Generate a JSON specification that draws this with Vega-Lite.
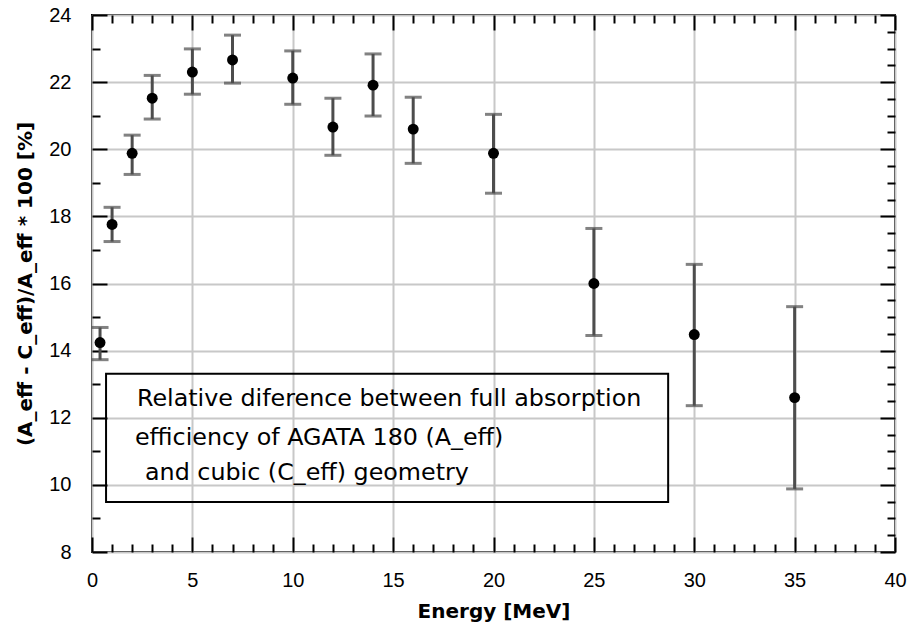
{
  "$schema": "https://vega.github.io/schema/vega-lite/v6.json",
  "width": 803,
  "height": 537,
  "autosize": "none",
  "padding": {"left": 92, "top": 15, "right": 16, "bottom": 74},
  "background": "#ffffff",
  "config": {
    "view": {"stroke": "#000000", "strokeWidth": 2},
    "axis": {
      "labelFont": "Liberation Sans",
      "labelFontSize": 20,
      "labelColor": "#000000",
      "labelOverlap": false,
      "titleFont": "DejaVu Sans",
      "titleFontSize": 20,
      "titleFontWeight": "bold",
      "titleColor": "#000000",
      "tickColor": "#000000",
      "tickWidth": 2,
      "tickCount": 500,
      "domain": false,
      "gridColor": "#c8c8c8",
      "gridWidth": 2
    }
  },
  "resolve": {"axis": {"x": "independent", "y": "independent"}},
  "layer": [
    {
      "data": {"values": [
        {"energy": 0.4, "diff": 14.24, "lo": 13.73, "hi": 14.69},
        {"energy": 1, "diff": 17.76, "lo": 17.25, "hi": 18.27},
        {"energy": 2, "diff": 19.88, "lo": 19.25, "hi": 20.42},
        {"energy": 3, "diff": 21.52, "lo": 20.9, "hi": 22.2},
        {"energy": 5, "diff": 22.3, "lo": 21.64, "hi": 22.99},
        {"energy": 7, "diff": 22.66, "lo": 21.97, "hi": 23.4},
        {"energy": 10, "diff": 22.12, "lo": 21.34, "hi": 22.93},
        {"energy": 12, "diff": 20.66, "lo": 19.82, "hi": 21.52},
        {"energy": 14, "diff": 21.91, "lo": 20.99, "hi": 22.84},
        {"energy": 16, "diff": 20.6, "lo": 19.58, "hi": 21.55},
        {"energy": 20, "diff": 19.88, "lo": 18.69, "hi": 21.04},
        {"energy": 25, "diff": 16.0, "lo": 14.45, "hi": 17.64},
        {"energy": 30, "diff": 14.48, "lo": 12.36, "hi": 16.57},
        {"energy": 35, "diff": 12.6, "lo": 9.88, "hi": 15.31}
      ]},
      "layer": [
        {
          "mark": {"type": "rule", "color": "#4d4d4d", "strokeWidth": 3},
          "encoding": {
            "x": {"field": "energy", "type": "quantitative",
              "scale": {"domain": [0, 40], "nice": false, "zero": false},
              "axis": {
                "orient": "bottom",
                "values": [0,1,2,3,4,5,6,7,8,9,10,11,12,13,14,15,16,17,18,19,20,21,22,23,24,25,26,27,28,29,30,31,32,33,34,35,36,37,38,39,40],
                "tickCount": 500,
                "format": "d",
                "labelExpr": "datum.value % 5 === 0 ? datum.label : ''",
                "labelOverlap": false,
                "tickSize": {"condition": {"test": "datum.value % 5 === 0", "value": -15}, "value": -8},
                "gridOpacity": {"condition": {"test": "datum.value % 5 === 0", "value": 1}, "value": 0},
                "labelPadding": 33,
                "labelFlush": false,
                "labelBound": false,
                "title": "Energy [MeV]",
                "titlePadding": 4
              }},
            "y": {"field": "lo", "type": "quantitative",
              "scale": {"domain": [8, 24], "nice": false, "zero": false},
              "axis": {
                "orient": "left",
                "values": [8,8.5,9,9.5,10,10.5,11,11.5,12,12.5,13,13.5,14,14.5,15,15.5,16,16.5,17,17.5,18,18.5,19,19.5,20,20.5,21,21.5,22,22.5,23,23.5,24],
                "tickCount": 500,
                "format": "d",
                "labelExpr": "datum.value % 2 === 0 ? datum.label : ''",
                "labelOverlap": false,
                "tickSize": {"condition": {"test": "datum.value % 2 === 0", "value": -15}, "value": -8},
                "gridOpacity": {"condition": {"test": "datum.value % 2 === 0", "value": 1}, "value": 0},
                "labelPadding": 36,
                "labelFlush": false,
                "labelBound": false,
                "title": "(A_eff - C_eff)/A_eff * 100 [%]",
                "titlePadding": 13
              }},
            "y2": {"field": "hi"}
          }
        },
        {
          "mark": {"type": "tick", "orient": "horizontal", "color": "#4d4d4d", "size": 17, "thickness": 3},
          "encoding": {
            "x": {"field": "energy", "type": "quantitative"},
            "y": {"field": "hi", "type": "quantitative"}
          }
        },
        {
          "mark": {"type": "tick", "orient": "horizontal", "color": "#4d4d4d", "size": 17, "thickness": 3},
          "encoding": {
            "x": {"field": "energy", "type": "quantitative"},
            "y": {"field": "lo", "type": "quantitative"}
          }
        },
        {
          "mark": {"type": "circle", "color": "#000000", "opacity": 1, "size": 120},
          "encoding": {
            "x": {"field": "energy", "type": "quantitative"},
            "y": {"field": "diff", "type": "quantitative"}
          }
        }
      ]
    },
    {
      "data": {"values": [
        {"x1": 0.7, "x2": 28.7, "y1": 9.49, "y2": 13.31}
      ]},
      "mark": {"type": "rect", "fill": null, "fillOpacity": 0, "stroke": "#000000", "strokeWidth": 2},
      "encoding": {
        "x": {"field": "x1", "type": "quantitative",
          "scale": {"domain": [0, 40], "nice": false, "zero": false},
          "axis": {
            "orient": "top",
            "values": [0,1,2,3,4,5,6,7,8,9,10,11,12,13,14,15,16,17,18,19,20,21,22,23,24,25,26,27,28,29,30,31,32,33,34,35,36,37,38,39,40],
            "tickCount": 500,
            "labels": false,
            "grid": false,
            "title": null,
            "tickSize": {"condition": {"test": "datum.value % 5 === 0", "value": -15}, "value": -8}
          }},
        "x2": {"field": "x2"},
        "y": {"field": "y1", "type": "quantitative",
          "scale": {"domain": [8, 24], "nice": false, "zero": false},
          "axis": {
            "orient": "right",
            "values": [8,8.5,9,9.5,10,10.5,11,11.5,12,12.5,13,13.5,14,14.5,15,15.5,16,16.5,17,17.5,18,18.5,19,19.5,20,20.5,21,21.5,22,22.5,23,23.5,24],
            "tickCount": 500,
            "labels": false,
            "grid": false,
            "title": null,
            "tickSize": {"condition": {"test": "datum.value % 2 === 0", "value": -15}, "value": -8}
          }},
        "y2": {"field": "y2"}
      }
    },
    {
      "data": {"values": [
        {"tx": 2.24, "ty": 12.57, "line": "Relative diference  between full absorption"},
        {"tx": 2.14, "ty": 11.4, "line": "efficiency of AGATA 180 (A_eff)"},
        {"tx": 2.64, "ty": 10.36, "line": "and cubic (C_eff) geometry"}
      ]},
      "mark": {"type": "text", "align": "left", "baseline": "middle", "font": "DejaVu Sans", "fontSize": 23.8, "color": "#000000"},
      "encoding": {
        "x": {"field": "tx", "type": "quantitative", "axis": null},
        "y": {"field": "ty", "type": "quantitative", "axis": null},
        "text": {"field": "line"}
      }
    }
  ]
}
